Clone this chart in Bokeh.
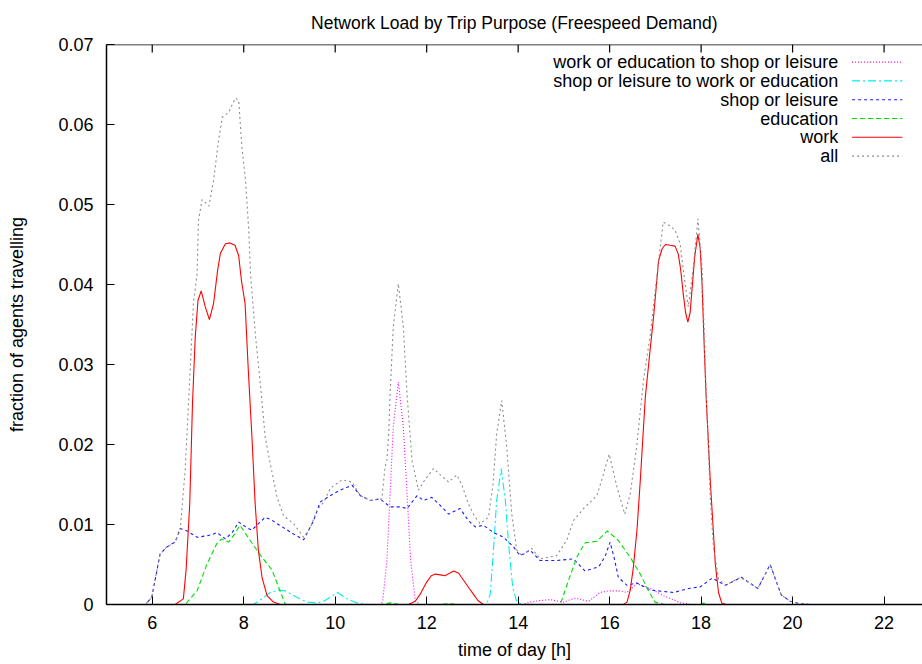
from bokeh.plotting import figure
from bokeh.models import Range1d, FixedTicker, PrintfTickFormatter, Span
from bokeh.embed import file_html
from bokeh.resources import INLINE

# ---------------- data (hours, fraction of agents travelling) ----------------
work_h = [5.0, 6.5, 6.68, 6.74, 6.82, 6.88, 6.94, 7.00, 7.07, 7.16, 7.25, 7.34, 7.43, 7.49, 7.60,
          7.70, 7.81, 7.89, 7.95, 8.03, 8.10, 8.18, 8.25, 8.32, 8.40, 8.51, 8.65, 8.8,
          11.6, 11.75, 11.86, 12.0, 12.1, 12.19, 12.30, 12.40, 12.50, 12.59, 12.70, 12.81, 12.92,
          13.02, 13.12, 13.24,
          16.3, 16.38, 16.45, 16.52, 16.60, 16.67, 16.78, 16.87, 16.96, 17.07, 17.15, 17.22, 17.32,
          17.43, 17.50, 17.55, 17.61, 17.66, 17.71, 17.76, 17.80, 17.86, 17.93, 17.98, 18.02, 18.06,
          18.11, 18.20, 18.31, 18.38, 18.45, 18.55, 23.0]
work_v = [0, 0, 0.0007, 0.0043, 0.0126, 0.0251, 0.0334, 0.038, 0.0392, 0.0372, 0.0356, 0.0376, 0.0418,
          0.0439, 0.0451, 0.0452, 0.0449, 0.0436, 0.0405, 0.0376, 0.0293, 0.0209, 0.0126, 0.0068,
          0.0034, 0.0011, 0.0003, 0,
          0, 0.0004, 0.0013, 0.0028, 0.0036, 0.0038, 0.0037, 0.0036, 0.0039, 0.0042, 0.0039, 0.003,
          0.0021, 0.0013, 0.0005, 0,
          0, 0.0003, 0.0018, 0.0047, 0.0095, 0.0155, 0.0259, 0.031, 0.0359, 0.043, 0.0445, 0.045,
          0.0449, 0.0448, 0.0438, 0.042, 0.0388, 0.0365, 0.0353, 0.0365, 0.0393, 0.0435, 0.0463,
          0.0445, 0.0401, 0.0335, 0.0259, 0.0155, 0.0051, 0.0015, 0.0002, 0, 0]

all_h = [5.0, 5.85, 5.99, 6.17, 6.32, 6.50, 6.61, 6.72, 6.83, 6.90, 6.98, 7.01, 7.09, 7.17, 7.24,
         7.34, 7.45, 7.53, 7.60, 7.67, 7.75, 7.82, 7.89, 7.96, 8.04, 8.11, 8.15, 8.26, 8.37, 8.47,
         8.58, 8.73, 8.87, 9.09, 9.31, 9.45, 9.60, 9.75, 9.89, 10.15, 10.37, 10.55, 10.77, 11.02,
         11.09, 11.13, 11.17, 11.20, 11.27, 11.38, 11.49, 11.57, 11.68, 11.82, 11.95, 12.15, 12.30,
         12.48, 12.66, 12.78, 12.91, 13.05, 13.17, 13.35, 13.45, 13.53, 13.64, 13.75, 13.86, 13.97,
         14.08, 14.30, 14.48, 14.84, 15.06, 15.21, 15.43, 15.72, 15.85, 15.99, 16.16, 16.33, 16.45,
         16.59, 16.74, 16.89, 17.03, 17.17, 17.30, 17.43, 17.54, 17.65, 17.72, 17.83, 17.93, 18.02,
         18.09, 18.20, 18.27, 18.38, 18.53, 18.86, 19.24, 19.51, 19.75, 19.95, 20.16, 20.4, 23.0]
all_v = [0, 0, 0.0009, 0.0063, 0.0072, 0.0078, 0.0093, 0.0168, 0.0293, 0.0376, 0.0413, 0.048, 0.0506,
         0.0502, 0.0498, 0.053, 0.058, 0.0609, 0.0612, 0.0615, 0.0625, 0.0633, 0.063, 0.0572, 0.053,
         0.0468, 0.0412, 0.0334, 0.0272, 0.0209, 0.0176, 0.0134, 0.0111, 0.0101, 0.0084, 0.0095,
         0.0118, 0.0128, 0.0145, 0.0156, 0.0153, 0.0136, 0.013, 0.0132, 0.0172, 0.018, 0.0213,
         0.0263, 0.0347, 0.0401, 0.0347, 0.0263, 0.018, 0.0143, 0.0155, 0.017, 0.0162, 0.0153,
         0.0162, 0.0148, 0.0126, 0.011, 0.0101, 0.0109, 0.015, 0.0213, 0.0255, 0.0197, 0.0113,
         0.0068, 0.0061, 0.007, 0.0057, 0.0061, 0.008, 0.0105, 0.012, 0.0136, 0.016, 0.0188, 0.0147,
         0.0113, 0.0138, 0.0197, 0.028, 0.0338, 0.0409, 0.0478, 0.0474, 0.0468, 0.0451, 0.0401,
         0.0372, 0.0422, 0.0482, 0.0422, 0.0297, 0.0134, 0.0072, 0.0032, 0.0024, 0.0034, 0.002,
         0.005, 0.0012, 0.0004, 0.0001, 0, 0]

shop_h = [5.0, 5.85, 5.99, 6.17, 6.32, 6.50, 6.61, 6.76, 6.98, 7.20, 7.34, 7.41, 7.60, 7.75, 7.89,
          8.10, 8.18, 8.30, 8.47, 8.60, 8.73, 8.90, 9.09, 9.31, 9.53, 9.67, 9.89, 10.11, 10.37,
          10.55, 10.77, 10.98, 11.20, 11.42, 11.57, 11.79, 11.93, 12.11, 12.26, 12.48, 12.73, 12.91,
          13.06, 13.24, 13.46, 13.68, 13.90, 14.04, 14.26, 14.48, 14.84, 15.21, 15.46, 15.76, 15.90,
          16.01, 16.10, 16.19, 16.38, 16.59, 16.89, 17.40, 17.73, 17.98, 18.24, 18.53, 18.88, 19.24,
          19.51, 19.75, 19.95, 20.16, 20.4, 23.0]
shop_v = [0, 0, 0.0009, 0.0063, 0.0072, 0.0078, 0.0095, 0.0092, 0.0084, 0.0086, 0.0088, 0.009,
          0.0082, 0.009, 0.0103, 0.0095, 0.0093, 0.01, 0.0109, 0.0106, 0.0101, 0.0095, 0.0088,
          0.0081, 0.0105, 0.0128, 0.0136, 0.0143, 0.0149, 0.0136, 0.013, 0.0132, 0.0122, 0.0122,
          0.012, 0.0136, 0.013, 0.0134, 0.0126, 0.0113, 0.012, 0.0105, 0.0097, 0.0099, 0.009,
          0.0084, 0.0072, 0.0061, 0.0068, 0.0055, 0.0055, 0.0057, 0.0042, 0.0047, 0.006, 0.0078,
          0.0058, 0.0034, 0.0024, 0.0027, 0.0018, 0.0015, 0.002, 0.0022, 0.0033, 0.0024, 0.0034,
          0.002, 0.005, 0.0012, 0.0004, 0.0001, 0, 0]

edu_h = [5.0, 6.72, 6.98, 7.20, 7.41, 7.52, 7.67, 7.80, 7.92, 8.14, 8.40, 8.62, 8.76, 8.91,
         11.0, 11.2, 11.4, 12.3, 12.5, 12.7,
         14.92, 15.10, 15.28, 15.46, 15.72, 15.95, 16.19, 16.45, 16.67, 16.85, 16.99, 17.2,
         18.0, 18.05, 18.15, 23.0]
edu_v = [0, 0, 0.0017, 0.0051, 0.0076, 0.0082, 0.0078, 0.0088, 0.0099, 0.008, 0.0059, 0.0043,
         0.0022, 0, 0, 0.0002, 0, 0, 0.0001, 0,
         0, 0.003, 0.0059, 0.0077, 0.0079, 0.0092, 0.008, 0.0059, 0.0038, 0.0017, 0.0003, 0,
         0, 0.0002, 0, 0]

s2w_h = [5.0, 8.21, 8.40, 8.58, 8.75, 8.91, 9.16, 9.38, 9.60, 9.75, 9.89, 10.05, 10.26, 10.48, 10.7,
         13.31, 13.39, 13.46, 13.53, 13.63, 13.72, 13.79, 13.88, 13.97, 14.1, 23.0]
s2w_v = [0, 0, 0.0007, 0.0015, 0.0018, 0.0017, 0.0009, 0.0003, 0.0002, 0.0004, 0.0009, 0.0015,
         0.0007, 0.0002, 0, 0, 0.0013, 0.0068, 0.013, 0.017, 0.013, 0.0076, 0.0022, 0.0003, 0, 0]

w2s_h = [5.0, 11.0, 11.04, 11.13, 11.20, 11.27, 11.38, 11.49, 11.57, 11.65, 11.75, 11.85,
         14.1, 14.26, 14.48, 14.70, 14.99, 15.25, 15.54, 15.79, 15.98, 16.23, 16.38, 16.59, 16.89,
         17.18, 17.55, 17.8, 23.0]
w2s_v = [0, 0, 0.0005, 0.0055, 0.0138, 0.0222, 0.0278, 0.0222, 0.0138, 0.0055, 0.0005, 0,
         0, 0.0003, 0.0005, 0.0006, 0.0003, 0.0008, 0.0004, 0.0015, 0.0017, 0.0017, 0.0015, 0.0026,
         0.002, 0.0011, 0.0002, 0, 0]

x_ticks = [6, 8, 10, 12, 14, 16, 18, 20, 22]
y_ticks = [0, 0.01, 0.02, 0.03, 0.04, 0.05, 0.06, 0.07]
X_MIN, X_MAX = 5, 22.84
Y_MIN, Y_MAX = 0, 0.07
TITLE = "Network Load by Trip Purpose (Freespeed Demand)"

# series in drawing/legend order
series = [
    ("work or education to shop or leisure", w2s_h, w2s_v, "#ff00ff", "1 2"),
    ("shop or leisure to work or education", s2w_h, s2w_v, "#00eeee", "8 3 2 3"),
    ("shop or leisure", shop_h, shop_v, "#1a1aff", "3 3"),
    ("education", edu_h, edu_v, "#00dd00", "5 3"),
    ("work", work_h, work_v, "#ff0000", "solid"),
    ("all", all_h, all_v, "#8c8c8c", "2 3"),
]

FONT = "Liberation Sans"
FS = "18px"
W, H = 922, 664

p = figure(width=W, height=H, output_backend="svg", toolbar_location=None,
           x_range=Range1d(X_MIN, X_MAX), y_range=Range1d(Y_MIN, Y_MAX),
           min_border_left=106, min_border_right=0, min_border_top=44, min_border_bottom=60)
p.outline_line_color = None
p.grid.visible = False
p.background_fill_color = "white"

p.title.text = TITLE
p.title.align = "center"
p.title.vertical_align = "top"
p.title.text_font = FONT
p.title.text_font_size = "17.5px"
p.title.text_font_style = "normal"
p.title.text_color = "black"
p.title.standoff = 20

for ax in (p.xaxis[0], p.yaxis[0]):
    ax.axis_line_width = 1.5
    ax.major_tick_in = 8
    ax.major_tick_out = 0
    ax.minor_tick_line_color = None
    ax.major_label_text_font = FONT
    ax.major_label_text_font_size = FS
    ax.major_label_text_color = "black"
    ax.axis_label_text_font = FONT
    ax.axis_label_text_font_size = FS
    ax.axis_label_text_font_style = "normal"
    ax.axis_label_text_color = "black"

p.xaxis.ticker = FixedTicker(ticks=x_ticks)
p.yaxis.ticker = FixedTicker(ticks=y_ticks)
p.yaxis.formatter = PrintfTickFormatter(format="%g")
p.xaxis.axis_label = "time of day [h]"
p.yaxis.axis_label = "fraction of agents travelling"
p.xaxis.major_label_standoff = 11
p.yaxis.major_label_standoff = 13
p.xaxis.axis_label_standoff = 8
p.yaxis.axis_label_standoff = 28

# top border with inward mirrored ticks (gnuplot style)
p.add_layout(Span(location=Y_MAX, dimension="width", line_color="black", line_width=1.5))
TICK_LEN = 0.001
p.segment(x0=x_ticks, y0=[Y_MAX] * len(x_ticks), x1=x_ticks, y1=[Y_MAX - TICK_LEN] * len(x_ticks),
          line_color="black", line_width=1.2)

for name, xs, ys, col, dash in series:
    p.line(xs, ys, line_color=col, line_width=1.1, line_dash=dash)

# legend (gnuplot style: right-aligned text, sample line at right)
LEG_TEXT_X = 21.0
LEG_X0, LEG_X1 = 21.3, 22.4
LEG_Y0 = 0.0678
LEG_DY = 0.00235
for i, (name, xs, ys, col, dash) in enumerate(series):
    yy = LEG_Y0 - i * LEG_DY
    p.text(x=[LEG_TEXT_X], y=[yy], text=[name], text_align="right", text_baseline="middle",
           text_font={"value": FONT}, text_font_size={"value": FS}, text_color="black")
    p.line([LEG_X0, LEG_X1], [yy, yy], line_color=col, line_width=1.1, line_dash=dash)

open("out.html", "w").write(file_html(p, INLINE))
